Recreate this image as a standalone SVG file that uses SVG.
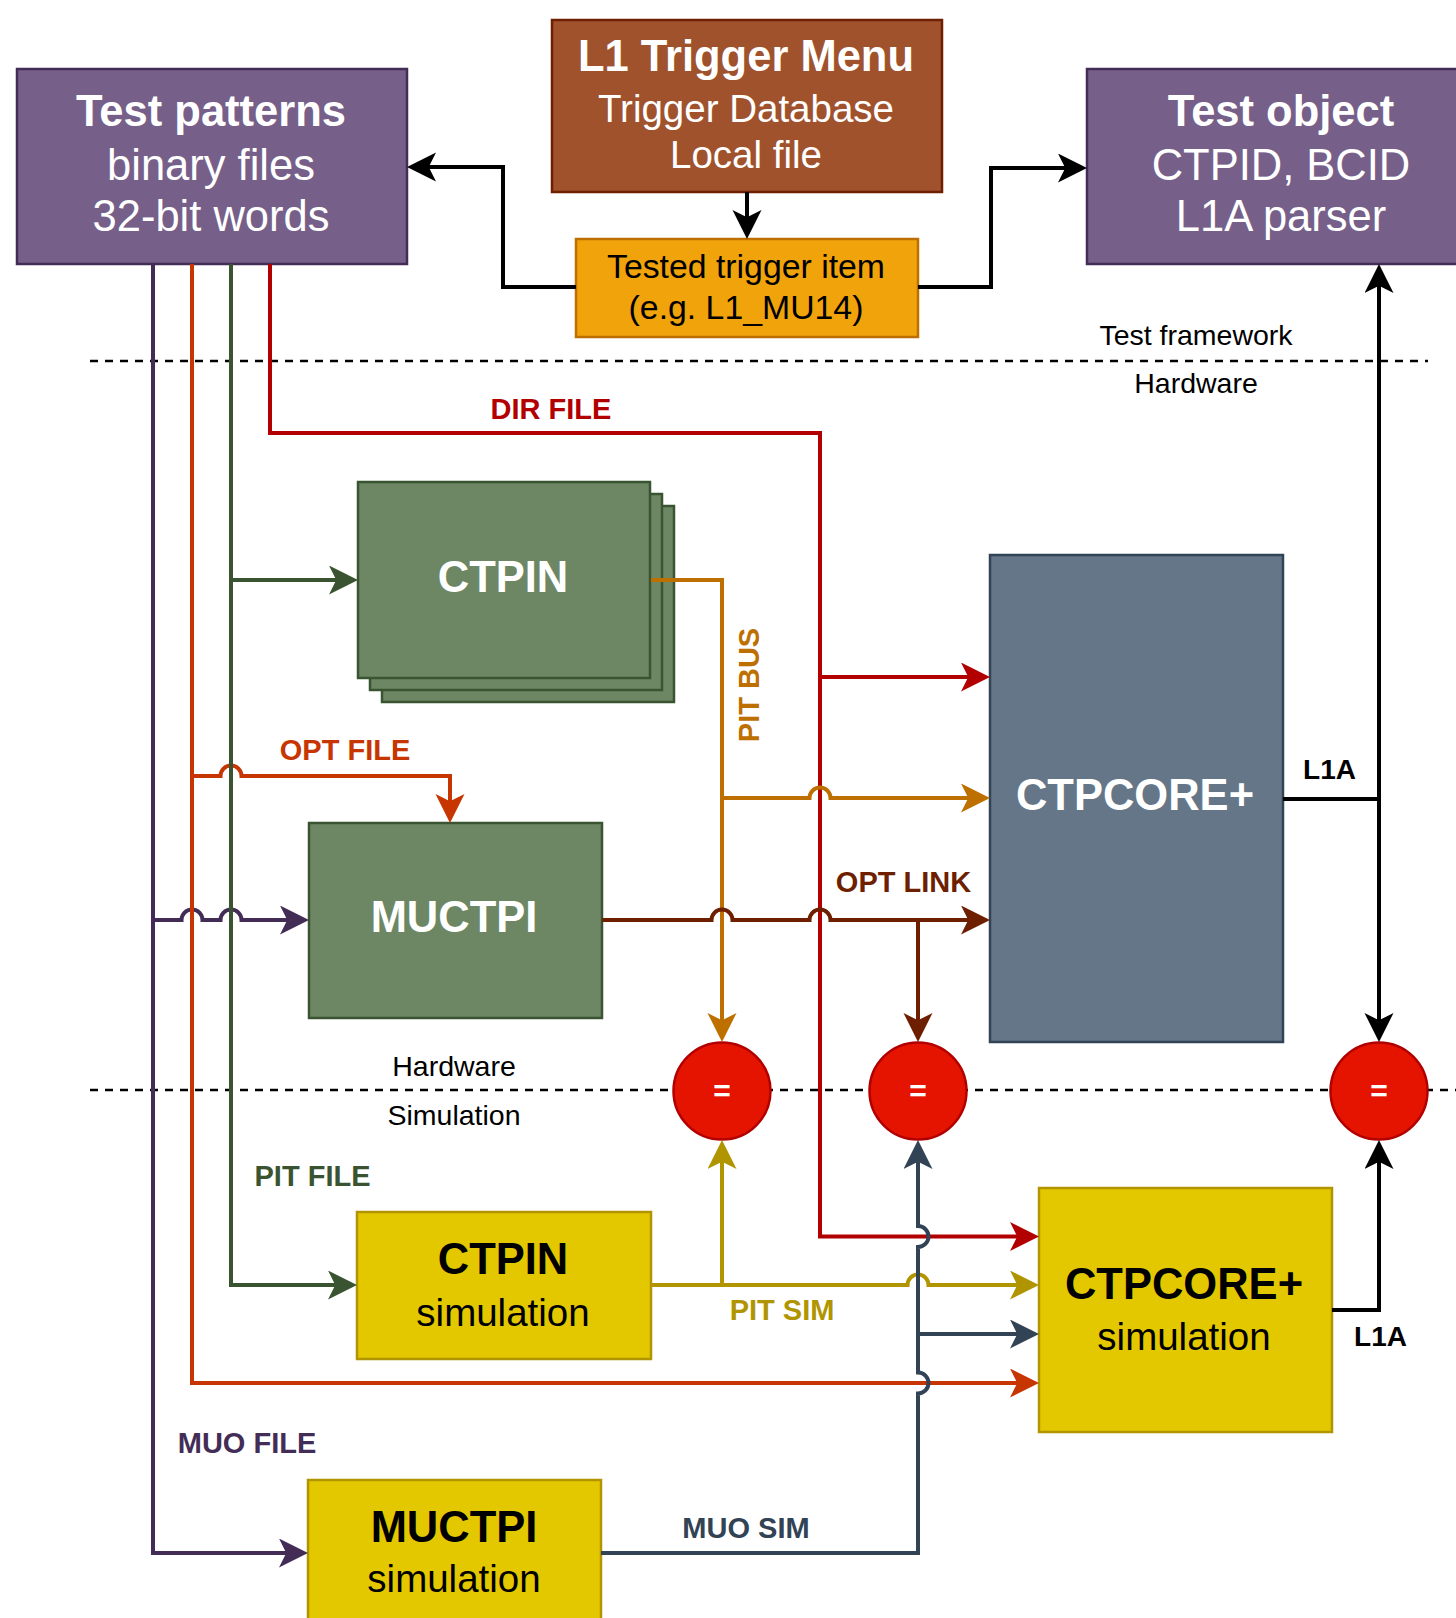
<svg xmlns="http://www.w3.org/2000/svg" width="1456" height="1618" viewBox="0 0 1456 1618">
  <style>
    text { font-family: "Liberation Sans", Arial, Helvetica, sans-serif; text-anchor: middle; }
    .b { font-weight: bold; }
    .w { fill: #ffffff; }
    .k { fill: #000000; }
    .big { font-size: 43.5px; }
    .mid { font-size: 38.5px; }
    .lbl { font-size: 29px; font-weight: bold; }
    .sec { font-size: 28.5px; fill: #000000; }
    .purple { fill: #76608a; stroke: #432d57; stroke-width: 2.5; }
    .sienna { fill: #a0522d; stroke: #6d1f00; stroke-width: 2.5; }
    .amber { fill: #f0a30a; stroke: #bd7000; stroke-width: 2.5; }
    .hw { fill: #6d8764; stroke: #3a5431; stroke-width: 2.5; }
    .core { fill: #647687; stroke: #314354; stroke-width: 2.5; }
    .sim { fill: #e3c800; stroke: #b09500; stroke-width: 2.5; }
    .cmp { fill: #e51400; stroke: #b20000; stroke-width: 2.5; }
    .c { fill: none; stroke-width: 4; stroke-linejoin: miter; }
    .dash { fill: none; stroke: #000000; stroke-width: 2.5; stroke-dasharray: 8 7; }
  </style>
  <defs>
    <marker id="aK" markerUnits="userSpaceOnUse" markerWidth="30" markerHeight="30" refX="9" refY="14.5" orient="auto-start-reverse"><path d="M0,0 L29,14.5 L0,29 L7.25,14.5 Z" fill="#000000"/></marker>
    <marker id="aPu" markerUnits="userSpaceOnUse" markerWidth="30" markerHeight="30" refX="9" refY="14.5" orient="auto"><path d="M0,0 L29,14.5 L0,29 L7.25,14.5 Z" fill="#432d57"/></marker>
    <marker id="aOr" markerUnits="userSpaceOnUse" markerWidth="30" markerHeight="30" refX="9" refY="14.5" orient="auto"><path d="M0,0 L29,14.5 L0,29 L7.25,14.5 Z" fill="#c73500"/></marker>
    <marker id="aGr" markerUnits="userSpaceOnUse" markerWidth="30" markerHeight="30" refX="9" refY="14.5" orient="auto"><path d="M0,0 L29,14.5 L0,29 L7.25,14.5 Z" fill="#3a5431"/></marker>
    <marker id="aRd" markerUnits="userSpaceOnUse" markerWidth="30" markerHeight="30" refX="9" refY="14.5" orient="auto"><path d="M0,0 L29,14.5 L0,29 L7.25,14.5 Z" fill="#b20000"/></marker>
    <marker id="aBus" markerUnits="userSpaceOnUse" markerWidth="30" markerHeight="30" refX="9" refY="14.5" orient="auto"><path d="M0,0 L29,14.5 L0,29 L7.25,14.5 Z" fill="#bd7000"/></marker>
    <marker id="aLnk" markerUnits="userSpaceOnUse" markerWidth="30" markerHeight="30" refX="9" refY="14.5" orient="auto"><path d="M0,0 L29,14.5 L0,29 L7.25,14.5 Z" fill="#6d1f00"/></marker>
    <marker id="aPs" markerUnits="userSpaceOnUse" markerWidth="30" markerHeight="30" refX="9" refY="14.5" orient="auto"><path d="M0,0 L29,14.5 L0,29 L7.25,14.5 Z" fill="#b09500"/></marker>
    <marker id="aMs" markerUnits="userSpaceOnUse" markerWidth="30" markerHeight="30" refX="9" refY="14.5" orient="auto"><path d="M0,0 L29,14.5 L0,29 L7.25,14.5 Z" fill="#314354"/></marker>
  </defs>

  <rect width="1456" height="1618" fill="#ffffff"/>

  <!-- domain boundaries -->
  <g id="boundaries">
    <line class="dash" x1="90" y1="361" x2="1428" y2="361"/>
    <line class="dash" x1="90" y1="1090" x2="1456" y2="1090"/>
    <text class="sec" x="1196" y="345">Test framework</text>
    <text class="sec" x="1196" y="393">Hardware</text>
    <text class="sec" x="454" y="1076">Hardware</text>
    <text class="sec" x="454" y="1125">Simulation</text>
  </g>

  <!-- nodes -->
  <g id="test-patterns">
    <rect class="purple" x="17" y="69" width="390" height="195"/>
    <text class="w b big" x="211" y="126">Test patterns</text>
    <text class="w big" x="211" y="180">binary files</text>
    <text class="w big" x="211" y="231">32-bit words</text>
  </g>
  <g id="trigger-menu">
    <rect class="sienna" x="552" y="20" width="390" height="172"/>
    <text class="w b big" x="746" y="71">L1 Trigger Menu</text>
    <text class="w mid" x="746" y="122">Trigger Database</text>
    <text class="w mid" x="746" y="168">Local file</text>
  </g>
  <g id="tested-item">
    <rect class="amber" x="576" y="239" width="342" height="98"/>
    <text class="k" style="font-size:33.8px" x="746" y="278">Tested trigger item</text>
    <text class="k" style="font-size:33.8px" x="746" y="319">(e.g. L1_MU14)</text>
  </g>
  <g id="test-object">
    <rect class="purple" x="1087" y="69" width="390" height="195"/>
    <text class="w b big" x="1281" y="126">Test object</text>
    <text class="w big" x="1281" y="180">CTPID, BCID</text>
    <text class="w big" x="1281" y="231">L1A parser</text>
  </g>
  <g id="ctpin">
    <rect class="hw" x="382" y="506" width="292" height="196"/>
    <rect class="hw" x="370" y="494" width="292" height="196"/>
    <rect class="hw" x="358" y="482" width="292" height="196"/>
    <text class="w b big" x="503" y="592">CTPIN</text>
  </g>
  <g id="muctpi">
    <rect class="hw" x="309" y="823" width="293" height="195"/>
    <text class="w b big" x="454" y="932">MUCTPI</text>
  </g>
  <g id="ctpcore">
    <rect class="core" x="990" y="555" width="293" height="487"/>
    <text class="w b big" x="1135" y="810">CTPCORE+</text>
  </g>
  <g id="ctpin-sim">
    <rect class="sim" x="357" y="1212" width="294" height="147"/>
    <text class="k b big" x="503" y="1274">CTPIN</text>
    <text class="k mid" x="503" y="1326">simulation</text>
  </g>
  <g id="ctpcore-sim">
    <rect class="sim" x="1039" y="1188" width="293" height="244"/>
    <text class="k b big" x="1184" y="1299">CTPCORE+</text>
    <text class="k mid" x="1184" y="1350">simulation</text>
  </g>
  <g id="muctpi-sim">
    <rect class="sim" x="308" y="1480" width="293" height="146"/>
    <text class="k b big" x="454" y="1542">MUCTPI</text>
    <text class="k mid" x="454" y="1592">simulation</text>
  </g>
  <g id="cmp-pit">
    <circle class="cmp" cx="722" cy="1091" r="48.5"/>
    <text class="w b" style="font-size:30px" x="722" y="1101">=</text>
  </g>
  <g id="cmp-mu">
    <circle class="cmp" cx="918" cy="1091" r="48.5"/>
    <text class="w b" style="font-size:30px" x="918" y="1101">=</text>
  </g>
  <g id="cmp-l1a">
    <circle class="cmp" cx="1379" cy="1091" r="48.5"/>
    <text class="w b" style="font-size:30px" x="1379" y="1101">=</text>
  </g>

  <!-- connectors -->
  <g id="connectors">
    <!-- test framework (black) -->
    <path class="c" stroke="#000000" stroke-width="4.5" d="M747,192 V219" marker-end="url(#aK)"/>
    <path class="c" stroke="#000000" stroke-width="4.5" d="M576,287 H503 V167 H427" marker-end="url(#aK)"/>
    <path class="c" stroke="#000000" stroke-width="4.5" d="M918,287 H991 V168 H1067" marker-end="url(#aK)"/>
    <path class="c" stroke="#000000" stroke-width="4.5" d="M1379,284 V1022" marker-start="url(#aK)" marker-end="url(#aK)"/>
    <path class="c" stroke="#000000" stroke-width="4.5" d="M1283,799 H1379"/>
    <path class="c" stroke="#000000" stroke-width="4.5" d="M1332,1310 H1379 V1160" marker-end="url(#aK)"/>

    <!-- MUO FILE -->
    <path class="c" stroke="#432d57" d="M153,264 V1553 H288" marker-end="url(#aPu)"/>
    <path class="c" stroke="#432d57" d="M153,920 H181.5 A10.5,10.5 0 0 1 202.5,920 H220.5 A10.5,10.5 0 0 1 241.5,920 H289" marker-end="url(#aPu)"/>
    <!-- OPT FILE -->
    <path class="c" stroke="#c73500" d="M192,264 V1383 H1019" marker-end="url(#aOr)"/>
    <path class="c" stroke="#c73500" d="M192,776 H220.5 A10.5,10.5 0 0 1 241.5,776 H450 V803" marker-end="url(#aOr)"/>
    <!-- PIT FILE -->
    <path class="c" stroke="#3a5431" d="M231,264 V1285 H337" marker-end="url(#aGr)"/>
    <path class="c" stroke="#3a5431" d="M231,580 H338" marker-end="url(#aGr)"/>
    <!-- DIR FILE -->
    <path class="c" stroke="#b20000" d="M270,264 V433 H820 V1236.5 H1019" marker-end="url(#aRd)"/>
    <path class="c" stroke="#b20000" d="M820,677 H970" marker-end="url(#aRd)"/>
    <!-- PIT BUS -->
    <path class="c" stroke="#bd7000" d="M651,580 H722 V1022" marker-end="url(#aBus)"/>
    <path class="c" stroke="#bd7000" d="M722,798 H809.5 A10.5,10.5 0 0 1 830.5,798 H970" marker-end="url(#aBus)"/>
    <!-- OPT LINK -->
    <path class="c" stroke="#6d1f00" d="M602,920 H711.5 A10.5,10.5 0 0 1 732.5,920 H809.5 A10.5,10.5 0 0 1 830.5,920 H970" marker-end="url(#aLnk)"/>
    <path class="c" stroke="#6d1f00" d="M918,920 V1022" marker-end="url(#aLnk)"/>
    <!-- PIT SIM -->
    <path class="c" stroke="#b09500" d="M651,1285 H907.5 A10.5,10.5 0 0 1 928.5,1285 H1019" marker-end="url(#aPs)"/>
    <path class="c" stroke="#b09500" d="M722,1285 V1160" marker-end="url(#aPs)"/>
    <!-- MUO SIM -->
    <path class="c" stroke="#314354" d="M601,1553 H918 V1393.5 A10.5,10.5 0 0 0 918,1372.5 V1247 A10.5,10.5 0 0 0 918,1226 V1160" marker-end="url(#aMs)"/>
    <path class="c" stroke="#314354" d="M918,1334 H1019" marker-end="url(#aMs)"/>

    <!-- connector labels -->
    <text class="lbl" fill="#b20000" x="551" y="419">DIR FILE</text>
    <text class="lbl" fill="#c73500" x="345" y="760">OPT FILE</text>
    <text class="lbl" fill="#bd7000" transform="translate(759,685) rotate(-90)" x="0" y="0">PIT BUS</text>
    <text class="lbl" fill="#6d1f00" x="903.5" y="892">OPT LINK</text>
    <text class="lbl" fill="#000000" style="font-size:28px" x="1329.5" y="779">L1A</text>
    <text class="lbl" fill="#3a5431" x="312.5" y="1186">PIT FILE</text>
    <text class="lbl" fill="#b09500" x="782" y="1320">PIT SIM</text>
    <text class="lbl" fill="#000000" style="font-size:28px" x="1380.5" y="1346">L1A</text>
    <text class="lbl" fill="#432d57" x="247" y="1453">MUO FILE</text>
    <text class="lbl" fill="#314354" x="746" y="1538">MUO SIM</text>
  </g>
</svg>
